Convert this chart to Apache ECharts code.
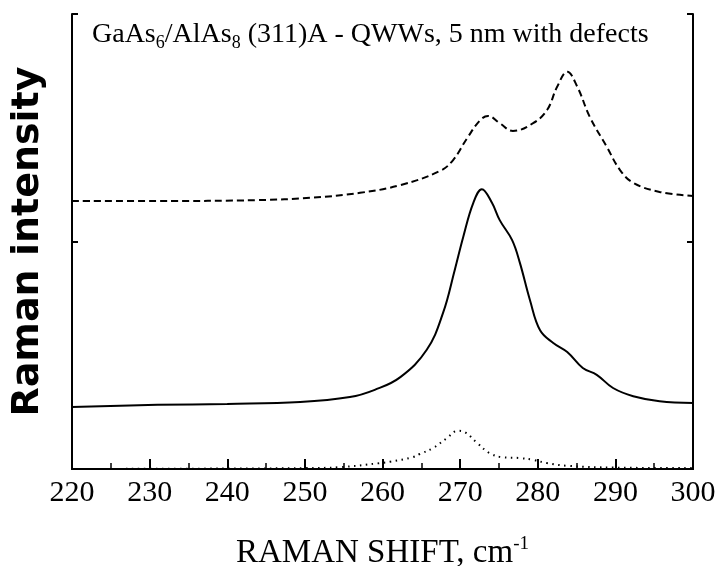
<!DOCTYPE html>
<html>
<head>
<meta charset="utf-8">
<script src="https://cdn.jsdelivr.net/npm/echarts@6/dist/echarts.min.js"></script>
<style>
  html, body { margin: 0; padding: 0; background: #fff; }
  #chart { width: 719px; height: 566px; }
</style>
</head>
<body>
<div id="chart"></div>
<script>
// Raman shift (cm^-1) sample positions and intensities (arb. units) for each spectrum
const shiftDashed = [220, 231, 244, 250.7, 257.1, 262.3, 267.4, 269.1, 270.9, 272.6, 273.6, 275.1, 276.8, 279.4, 281.2, 282.5, 283.8, 285.1, 286.7, 288.9, 290.6, 292.3, 295.7, 300];
const dashed      = [58.9, 58.9, 59.1, 59.6, 60.7, 62.4, 65.5, 67.9, 72.7, 76.7, 77.6, 76.0, 74.3, 76.0, 78.9, 84.0, 87.3, 84.0, 77.4, 70.8, 65.7, 62.9, 60.9, 60.0];

const shiftSolid = [220, 231, 240, 249.4, 255.8, 259, 262.3, 265.7, 267.8, 269.3, 270.4, 271.7, 272.8, 274.1, 275.1, 276.7, 277.7, 279.0, 280.3, 282.0, 283.8, 285.8, 287.6, 289.7, 292.3, 295.7, 300];
const solid      = [13.6, 14.1, 14.3, 14.7, 15.8, 17.4, 20.2, 26.2, 34.3, 43.7, 51.0, 58.5, 61.5, 58.5, 54.7, 50.3, 45.3, 37.1, 30.5, 27.7, 25.7, 22.2, 20.7, 17.8, 16.0, 14.9, 14.5];

const shiftDotted = [220, 240, 250, 254.5, 259.7, 261, 263.9, 264.8, 266.5, 268.3, 269.7, 270.6, 272.2, 273.8, 275.4, 277.7, 279.4, 281.2, 283.8, 290, 300];
const dotted      = [0, 0.1, 0.2, 0.4, 1.3, 1.6, 2.6, 3.3, 4.6, 6.8, 8.4, 8.1, 5.7, 3.5, 2.6, 2.4, 2.0, 1.3, 0.7, 0.3, 0.2];

const xTicks = [220, 230, 240, 250, 260, 270, 280, 290, 300];

const pairs = (xs, ys) => xs.map((x, i) => [x, ys[i]]);

const serif = 'Liberation Serif';
const frame = { show: true, lineStyle: { color: '#000', width: 2 } };

const chart = echarts.init(document.getElementById('chart'), null, { renderer: 'canvas' });
chart.setOption({
  animation: false,
  backgroundColor: '#fff',
  title: {
    text: '{m|GaAs}{s|6}{m|/AlAs}{s|8}{m| (311)A - QWWs, 5 nm with defects}',
    left: 87,
    top: 13,
    textStyle: {
      fontWeight: 'normal',
      rich: {
        m: { fontFamily: serif, fontSize: 28, fontWeight: 'normal', color: '#000', lineHeight: 34 },
        s: { fontFamily: serif, fontSize: 18, fontWeight: 'normal', color: '#000', lineHeight: 34, verticalAlign: 'bottom' }
      }
    }
  },
  grid: { left: 72, right: 26, top: 14, bottom: 97, outerBoundsMode: 'none', containLabel: false },
  xAxis: [{
    type: 'value',
    position: 'bottom',
    min: xTicks[0],
    max: xTicks[xTicks.length - 1],
    interval: 10,
    axisLine: frame,
    axisTick: { show: true, inside: true, length: 10, lineStyle: { color: '#000', width: 2 } },
    minorTick: { show: true, splitNumber: 2, length: 6, lineStyle: { color: '#000', width: 1.5 } },
    splitLine: { show: false },
    axisLabel: { fontFamily: serif, fontSize: 30, color: '#000', margin: 9 },
    name: '{t|RAMAN SHIFT, cm}{p|-1}',
    nameLocation: 'middle',
    nameGap: 66,
    nameTextStyle: {
      rich: {
        t: { fontFamily: serif, fontSize: 33, color: '#000', lineHeight: 36 },
        p: { fontFamily: serif, fontSize: 19, color: '#000', lineHeight: 36, verticalAlign: 'top' }
      }
    }
  }, {
    type: 'value',
    position: 'top',
    min: xTicks[0],
    max: xTicks[xTicks.length - 1],
    axisLine: frame,
    axisTick: { show: false },
    axisLabel: { show: false },
    splitLine: { show: false }
  }],
  yAxis: [{
    type: 'value',
    position: 'left',
    min: 0,
    max: 100,
    interval: 50,
    axisLine: frame,
    axisTick: { show: true, inside: true, length: 6, lineStyle: { color: '#000', width: 2 } },
    axisLabel: { show: false },
    splitLine: { show: false },
    name: 'Raman intensity',
    nameLocation: 'middle',
    nameGap: 25,
    nameTextStyle: { fontFamily: 'DejaVu Sans', fontWeight: 'bold', fontSize: 38, color: '#000' }
  }, {
    type: 'value',
    position: 'right',
    min: 0,
    max: 100,
    interval: 50,
    axisLine: frame,
    axisTick: { show: true, inside: true, length: 6, lineStyle: { color: '#000', width: 2 } },
    axisLabel: { show: false },
    splitLine: { show: false }
  }],
  series: [{
    type: 'line',
    data: pairs(shiftDashed, dashed),
    smooth: 0.4,
    showSymbol: false,
    lineStyle: { color: '#000', width: 2, type: [7, 4] }
  }, {
    type: 'line',
    data: pairs(shiftSolid, solid),
    smooth: 0.4,
    showSymbol: false,
    lineStyle: { color: '#000', width: 2 }
  }, {
    type: 'line',
    data: pairs(shiftDotted, dotted),
    smooth: 0.4,
    showSymbol: false,
    lineStyle: { color: '#000', width: 2, type: [1.5, 4.5] }
  }]
});
</script>
</body>
</html>
